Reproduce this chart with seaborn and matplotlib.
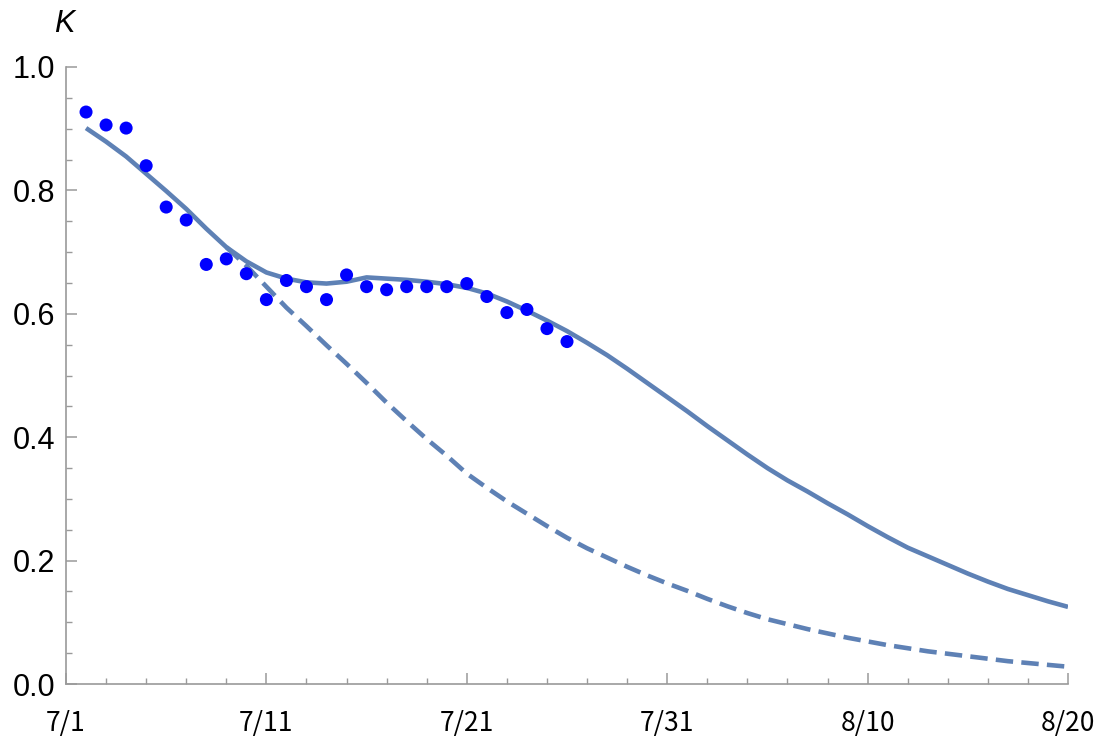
import matplotlib
matplotlib.use("Agg")
import matplotlib.pyplot as plt
from matplotlib.ticker import MultipleLocator, FixedLocator
import seaborn as sns
import pandas as pd

# Observed K values, one per day starting 7/2 (day 1 = 7/2)
obs_days = list(range(1, 26))
obs_k = [0.927, 0.906, 0.901, 0.840, 0.773, 0.752, 0.680, 0.689, 0.665, 0.623,
         0.654, 0.644, 0.623, 0.663, 0.644, 0.639, 0.644, 0.644, 0.644, 0.649,
         0.628, 0.602, 0.607, 0.576, 0.555]

# Fitted model (solid)
fit_days = list(range(1, 51))
fit_k = [0.901, 0.879, 0.855, 0.827, 0.799, 0.770, 0.738, 0.708, 0.685, 0.667,
         0.657, 0.651, 0.649, 0.652, 0.659, 0.657, 0.655, 0.652, 0.648, 0.642,
         0.633, 0.620, 0.605, 0.589, 0.572, 0.553, 0.533, 0.511, 0.488, 0.465,
         0.442, 0.418, 0.395, 0.372, 0.350, 0.330, 0.312, 0.293, 0.275, 0.256,
         0.238, 0.221, 0.207, 0.193, 0.179, 0.166, 0.154, 0.144, 0.134, 0.125]

# Scenario branch (dashed), starting from day 8
alt_days = list(range(8, 51))
alt_k = [0.708, 0.678, 0.644, 0.610, 0.580, 0.549, 0.519, 0.488, 0.456, 0.426,
         0.397, 0.370, 0.341, 0.318, 0.296, 0.276, 0.256, 0.237, 0.220, 0.205,
         0.190, 0.176, 0.163, 0.151, 0.138, 0.126, 0.115, 0.105, 0.097, 0.089,
         0.082, 0.075, 0.069, 0.063, 0.058, 0.053, 0.049, 0.045, 0.041, 0.037,
         0.034, 0.031, 0.028]

tick_days = [0, 10, 20, 30, 40, 50]
tick_labels = ["7/1", "7/11", "7/21", "7/31", "8/10", "8/20"]

sns.set_theme(style="white")
plt.rcParams["font.family"] = ["Liberation Sans", "DejaVu Sans"]

W, H = 1107, 738
fig = plt.figure(figsize=(W / 100, H / 100), dpi=100)
left, right, bottom, top = 66, 1068, 684, 67
ax = fig.add_axes([left / W, 1 - bottom / H, (right - left) / W, (bottom - top) / H])

line_col = "#5E81B5"
axis_col = "#9a9a9a"

fit_df = pd.DataFrame({"day": fit_days, "K": fit_k})
alt_df = pd.DataFrame({"day": alt_days, "K": alt_k})
obs_df = pd.DataFrame({"day": obs_days, "K": obs_k})

sns.lineplot(data=alt_df, x="day", y="K", ax=ax, color=line_col, lw=3.3,
             estimator=None, sort=False)
sns.lineplot(data=fit_df, x="day", y="K", ax=ax, color=line_col, lw=3.3,
             estimator=None, sort=False)
ax.lines[0].set_dashes((3.8, 1.8))
ax.lines[0].set_dash_capstyle("butt")
for ln in ax.lines:
    ln.set_solid_capstyle("butt")
    ln.set_solid_joinstyle("round")

sns.scatterplot(data=obs_df, x="day", y="K", ax=ax, color="#0000FF", s=88,
                edgecolor="none", zorder=5)

ax.set_xlim(0, 50)
ax.set_ylim(0, 1.0)
ax.set_xlabel("")
ax.set_ylabel("")

for side in ["top", "right"]:
    ax.spines[side].set_visible(False)
for side in ["left", "bottom"]:
    ax.spines[side].set_color(axis_col)
    ax.spines[side].set_linewidth(1.2)

ax.xaxis.set_major_locator(FixedLocator(tick_days))
ax.set_xticklabels(tick_labels, family=["Noto Sans CJK JP", "DejaVu Sans"], fontsize=19)
ax.xaxis.set_minor_locator(MultipleLocator(2))
ax.set_yticks([0.0, 0.2, 0.4, 0.6, 0.8, 1.0])
ax.yaxis.set_minor_locator(MultipleLocator(0.05))
ax.set_yticklabels(["0.0", "0.2", "0.4", "0.6", "0.8", "1.0"], fontsize=22)

ax.tick_params(axis="both", which="both", direction="in", color=axis_col,
               left=True, bottom=True, labelcolor="black")
ax.tick_params(axis="both", which="major", length=8, width=1.1)
ax.tick_params(axis="both", which="minor", length=4.5, width=1.0)
ax.tick_params(axis="x", which="major", pad=19)
ax.tick_params(axis="y", which="major", pad=8)

fig.text(64 / W, 1 - 24 / H, "K", fontsize=22, style="italic",
         ha="center", va="center", color="black")

fig.savefig("out.png", dpi=100, facecolor="white")
